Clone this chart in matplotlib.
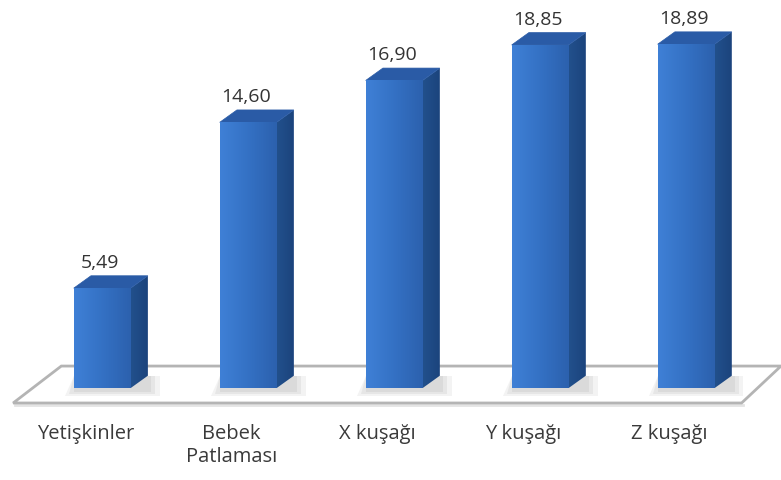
import matplotlib.pyplot as plt
import numpy as np
from matplotlib.patches import Polygon, Rectangle
from matplotlib.colors import LinearSegmentedColormap

categories = ["Yetişkinler", "Bebek\nPatlaması", "X kuşağı", "Y kuşağı", "Z kuşağı"]
values = [5.49, 14.60, 16.90, 18.85, 18.89]
value_labels = ["5,49", "14,60", "16,90", "18,85", "18,89"]

plt.rcParams['font.family'] = ['Open Sans', 'DejaVu Sans']

fig = plt.figure(figsize=(7.81, 4.80), dpi=100)
ax = fig.add_axes([0, 0, 1, 1])
ax.set_xlim(-0.70, 4.65)
ax.set_ylim(-5.05, 21.32)
ax.axis('off')

bw = 0.39      # front face width
dx = 0.118     # depth offset (x)
dy = 0.68      # depth offset (y, value units)

# floor
floor = Polygon([(-0.61, -0.82), (4.38, -0.82), (4.65, 1.21), (-0.28, 1.21)],
                closed=True, facecolor='white', edgecolor='#b4b4b4', lw=2.0, zorder=1)
ax.add_patch(floor)
ax.plot([-0.60, 4.39], [-0.95, -0.95], color='#e4e4e4', lw=2, zorder=0.9)

front_cmap = LinearSegmentedColormap.from_list('front', ['#3f80d6', '#3471c4', '#2c61ae'])
side_cmap = LinearSegmentedColormap.from_list('side', ['#22508c', '#1b437c'])
grad = np.linspace(0, 1, 64).reshape(1, -1)

for i, v in enumerate(values):
    x0 = i - bw / 2
    x1 = i + bw / 2
    # soft shadow on floor
    for k, a in enumerate([0.25, 0.35, 0.5]):
        e = 0.03 * (2 - k)
        sh = Polygon([(x0 - e, -0.2 - e * 4), (x1 + dx + e + 0.02, -0.2 - e * 4),
                      (x1 + dx + e + 0.02, dy), (x0, dy)],
                     closed=True, facecolor='#d0d0d0', edgecolor='none', alpha=a, zorder=2)
        ax.add_patch(sh)
    # side face
    side = Polygon([(x1, 0), (x1 + dx, dy), (x1 + dx, v + dy), (x1, v)],
                   closed=True, facecolor='none', edgecolor='none', zorder=3)
    ax.add_patch(side)
    im = ax.imshow(grad, cmap=side_cmap, aspect='auto', extent=(x1, x1 + dx, 0, v + dy), zorder=3)
    im.set_clip_path(side)
    # top face
    top = Polygon([(x0, v), (x1, v), (x1 + dx, v + dy), (x0 + dx, v + dy)],
                  closed=True, facecolor='#2a5ba6', edgecolor='#2a5ba6', lw=0.5, zorder=4)
    ax.add_patch(top)
    # front face
    front = Rectangle((x0, 0), bw, v, facecolor='none', edgecolor='none', zorder=5)
    ax.add_patch(front)
    im2 = ax.imshow(grad, cmap=front_cmap, aspect='auto', extent=(x0, x1, 0, v), zorder=5)
    im2.set_clip_path(front)
    # value label
    ax.text(i - 0.015, v + dy + 0.7, value_labels[i], ha='center', va='center',
            fontsize=14, color='#333333', zorder=6)
    # category label
    ax.text(i - 0.115, -2.0, categories[i], ha='center', va='top',
            fontsize=14.5, color='#3a3a3a', linespacing=1.2, zorder=6)

plt.savefig('out.png', dpi=100)
